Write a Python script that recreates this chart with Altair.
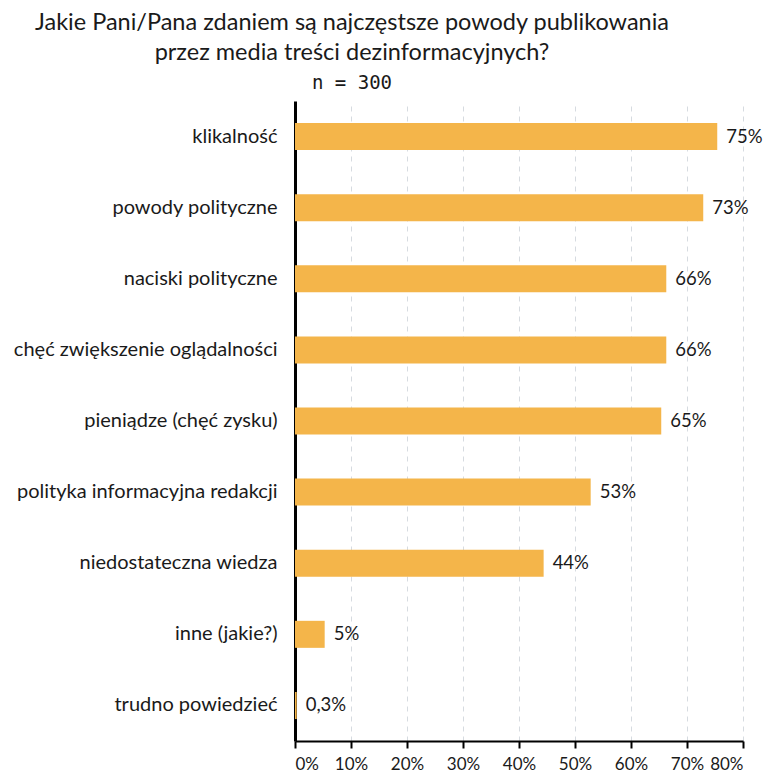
import altair as alt
import pandas as pd

categories = [
    "klikalność",
    "powody polityczne",
    "naciski polityczne",
    "chęć zwiększenie oglądalności",
    "pieniądze (chęć zysku)",
    "polityka informacyjna redakcji",
    "niedostateczna wiedza",
    "inne (jakie?)",
    "trudno powiedzieć",
]
values = [75.4, 72.9, 66.3, 66.3, 65.4, 52.8, 44.4, 5.3, 0.3]
labels = ["75%", "73%", "66%", "66%", "65%", "53%", "44%", "5%", "0,3%"]
x_ticks = [0, 10, 20, 30, 40, 50, 60, 70, 80]

df = pd.DataFrame({"cat": categories, "val": values, "lab": labels})

FONT = "Lato"

y_enc = alt.Y(
    "cat:N",
    sort=categories,
    title=None,
    scale=alt.Scale(paddingInner=0.62, paddingOuter=0.31),
    axis=alt.Axis(
        labelFont=FONT,
        labelFontSize=20,
        labelColor="#1a1a1a",
        labelPadding=18,
        labelLimit=0,
        ticks=False,
        domainColor="#000000",
        domainWidth=3,
        grid=False,
    ),
)
x_enc = alt.X(
    "val:Q",
    title=None,
    scale=alt.Scale(domain=[0, 80], nice=False),
    axis=alt.Axis(
        values=x_ticks,
        labelExpr="datum.value + '%'",
        labelFont=FONT,
        labelFontSize=17,
        labelColor="#1a1a1a",
        labelPadding=8,
        tickColor="#000000",
        tickWidth=2,
        tickSize=7,
        domainColor="#000000",
        domainWidth=2,
        grid=True,
        gridColor="#d6dbe0",
        gridDash=[5, 5],
        gridWidth=1,
    ),
)

bars = alt.Chart(df).mark_bar(color="#F4B54A").encode(x=x_enc, y=y_enc)
text = alt.Chart(df).mark_text(
    align="left", dx=9, font=FONT, fontSize=18.5, color="#1a1a1a"
).encode(x="val:Q", y=alt.Y("cat:N", sort=categories), text="lab:N")

chart = (
    alt.layer(bars, text)
    .properties(
        width=448,
        height=640,
        autosize=alt.AutoSizeParams(type="none"),
        padding={"left": 295, "top": 101, "right": 26, "bottom": 36},
        title=alt.TitleParams(
            text=[
                "Jakie Pani/Pana zdaniem są najczęstsze powody publikowania",
                "przez media treści dezinformacyjnych?",
            ],
            subtitle="n = 300",
            font=FONT,
            fontSize=23.5,
            fontWeight="normal",
            color="#1a1a1a",
            lineHeight=30,
            subtitleFont="DejaVu Sans Mono",
            subtitleFontSize=19,
            subtitleColor="#1a1a1a",
            subtitlePadding=10,
            anchor="middle",
            frame="group",
            dx=-167,
            offset=8,
        ),
    )
    .configure_view(stroke=None)
)

chart.save("out.html", embed_options={"renderer": "svg", "actions": False})
